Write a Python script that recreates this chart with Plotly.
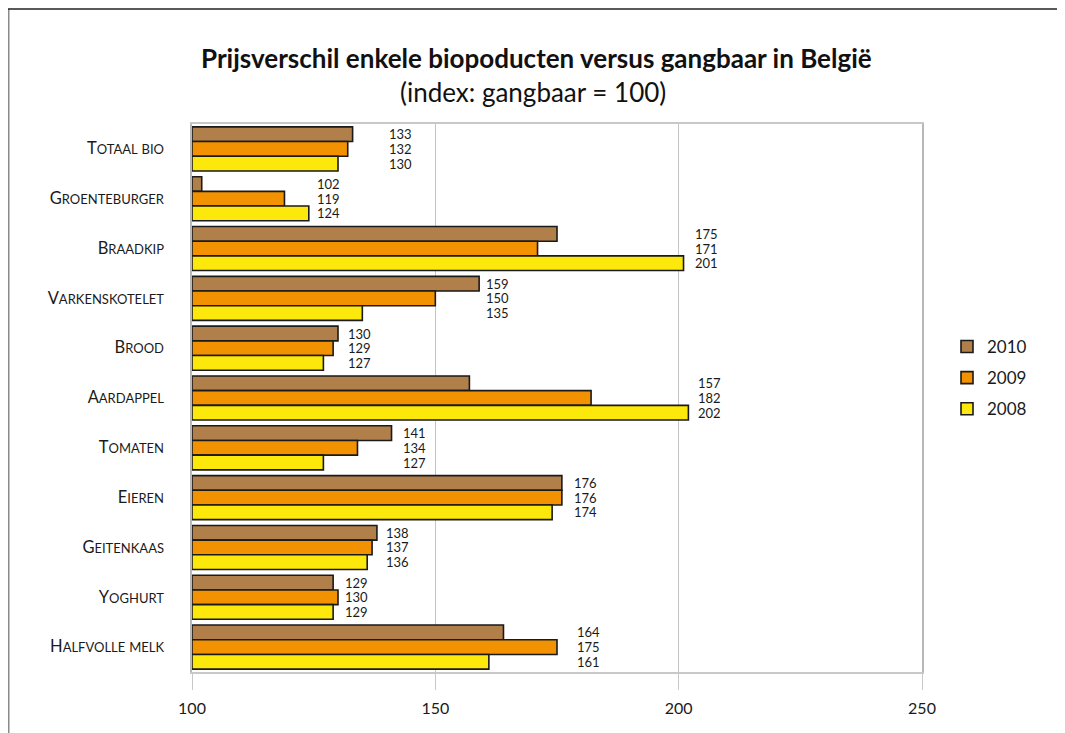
import plotly.graph_objects as go

# ---- data ----
categories = ["Totaal bio", "Groenteburger", "Braadkip", "Varkenskotelet", "Brood",
              "Aardappel", "Tomaten", "Eieren", "Geitenkaas", "Yoghurt", "Halfvolle melk"]
v2010 = [133, 102, 175, 159, 130, 157, 141, 176, 138, 129, 164]
v2009 = [132, 119, 171, 150, 129, 182, 134, 176, 137, 130, 175]
v2008 = [130, 124, 201, 135, 127, 202, 127, 174, 136, 129, 161]
series_names = ["2010", "2009", "2008"]
x_ticks = [100, 150, 200, 250]

# column where the value labels of each group sit
label_col = [142.8, 128.1, 205.7, 162.7, 134.5, 206.4, 145.8, 180.9, 142.2, 133.8, 181.4]

# ---- styling ----
colors = ["#B17F4A", "#F39200", "#FCE80A"]
BASE = 100
BARGAP = 0.116
FONT = "Lato"

OFF = 8  # browser body margin
PAGE_W, PAGE_H = 1065, 733
W, H = PAGE_W - OFF, PAGE_H - OFF
# plot area in page pixels
P_LEFT, P_RIGHT, P_TOP, P_BOTTOM = 192, 922, 124, 672
ML, MT = P_LEFT - OFF, P_TOP - OFF
MR, MB = W - (P_RIGHT - OFF), H - (P_BOTTOM - OFF)
PW, PH = P_RIGHT - P_LEFT, P_BOTTOM - P_TOP


def px_to_paper_x(px):  # page px -> paper
    return (px - P_LEFT) / PW


def px_to_paper_y(py):
    return (P_BOTTOM - py) / PH


def small_caps(s, big=16.5, small=13):
    out = []
    for word in s.split(" "):
        first, rest = word[0], word[1:]
        if first.isupper():
            out.append(f"<span style='font-size:{big}px'>{first}</span>"
                       f"<span style='font-size:{small}px'>{rest.upper()}</span>")
        else:
            out.append(f"<span style='font-size:{small}px'>{word.upper()}</span>")
    return " ".join(out)


y_idx = list(range(len(categories)))
series = [v2010, v2009, v2008]

fig = go.Figure()
for name, vals, col in zip(series_names, series, colors):
    fig.add_trace(go.Bar(
        y=y_idx, x=[v - BASE for v in vals], base=BASE, orientation="h",
        name=name, legendgroup=name,
        marker=dict(color=col, line=dict(color="#1a1a1a", width=1.6)),
        customdata=vals, hovertemplate="%{customdata}<extra>" + name + "</extra>",
    ))

# value labels
w = (1 - BARGAP) / 3
annotations = []
for k, vals in enumerate(series):
    for i, v in enumerate(vals):
        annotations.append(dict(
            x=label_col[i], y=i + (k - 1) * w, xref="x", yref="y",
            text=str(v), showarrow=False, xanchor="center", yanchor="middle",
            font=dict(family=FONT, size=13, color="#1a1a1a"),
        ))

# title lines
annotations.append(dict(
    x=px_to_paper_x(536), y=px_to_paper_y(58), xref="paper", yref="paper",
    text="<b>Prijsverschil enkele biopoducten versus gangbaar in België</b>",
    showarrow=False, xanchor="center", yanchor="middle",
    font=dict(family=FONT, size=26, color="#111111"),
))
annotations.append(dict(
    x=px_to_paper_x(533), y=px_to_paper_y(92), xref="paper", yref="paper",
    text="(index: gangbaar = 100)",
    showarrow=False, xanchor="center", yanchor="middle",
    font=dict(family=FONT, size=26, color="#111111"),
))

shapes = [
    # outer frame: left and top
    dict(type="line", xref="paper", yref="paper",
         x0=px_to_paper_x(8.5), x1=px_to_paper_x(8.5),
         y0=px_to_paper_y(9), y1=px_to_paper_y(740),
         line=dict(color="#8a8a8a", width=2)),
    dict(type="line", xref="paper", yref="paper",
         x0=px_to_paper_x(8), x1=px_to_paper_x(1070),
         y0=px_to_paper_y(9), y1=px_to_paper_y(9),
         line=dict(color="#222222", width=1.5)),
]

fig.update_layout(
    width=W, height=H,
    margin=dict(l=ML, r=MR, t=MT, b=MB),
    paper_bgcolor="white", plot_bgcolor="white",
    barmode="group", bargap=BARGAP, bargroupgap=0,
    font=dict(family=FONT, color="#1a1a1a"),
    showlegend=True,
    legend=dict(
        x=px_to_paper_x(947), y=px_to_paper_y(378), xanchor="left", yanchor="middle",
        font=dict(family=FONT, size=17, color="#1a1a1a"),
        tracegroupgap=6, traceorder="grouped", bgcolor="rgba(0,0,0,0)",
    ),
    annotations=annotations,
    shapes=shapes,
    xaxis=dict(
        range=[100, 250], tickvals=x_ticks, ticktext=[str(t) for t in x_ticks],
        showgrid=True, gridcolor="#c4c4c4", gridwidth=1.3,
        showline=True, linecolor="#c8c8c8", linewidth=2, mirror=True,
        ticks="outside", ticklen=16, tickcolor="#c8c8c8", tickwidth=1.3,
        ticklabelstandoff=5,
        tickfont=dict(family=FONT, size=16, color="#1a1a1a"),
        zeroline=False, fixedrange=True,
    ),
    yaxis=dict(
        range=[len(categories) - 0.5, -0.5],
        tickvals=y_idx, ticktext=[small_caps(c) for c in categories],
        showgrid=False, zeroline=False,
        showline=True, linecolor="#b8b8b8", linewidth=2, mirror=True,
        ticks="", ticklabelstandoff=23,
        tickfont=dict(family=FONT, size=15, color="#1a1a1a"),
        fixedrange=True,
    ),
)

fig.write_html("out.html")
